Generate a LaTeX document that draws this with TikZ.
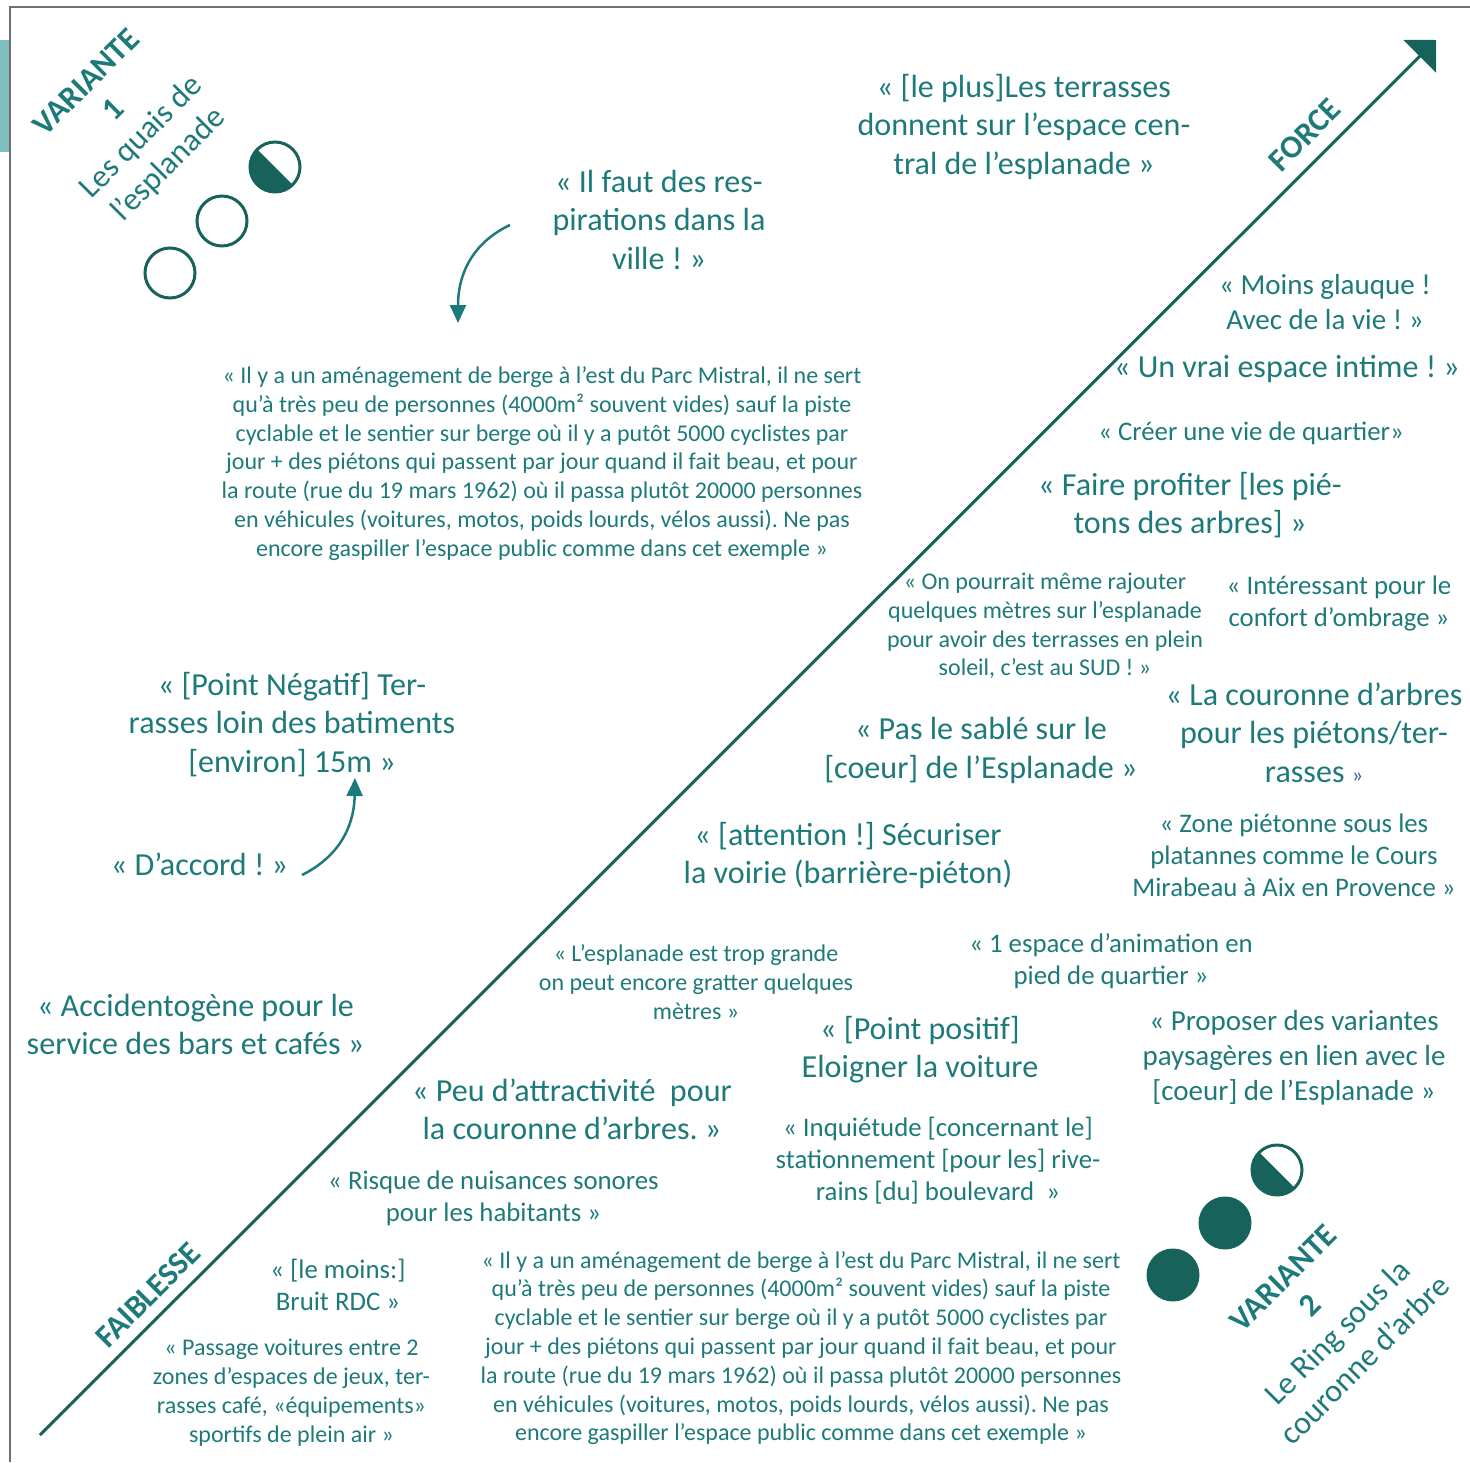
\documentclass[tikz,border=0pt]{standalone}
\usepackage{fontspec}
\setmainfont{Carlito}
\usepackage{tikz}
\usetikzlibrary{arrows.meta}
\frenchspacing

\definecolor{tealtxt}{RGB}{30,122,122}
\definecolor{tealdark}{RGB}{23,98,90}
\definecolor{tealbar}{RGB}{128,190,190}
\definecolor{framegray}{RGB}{112,112,112}
\definecolor{quoteblue}{RGB}{60,90,170}

\begin{document}
\begin{tikzpicture}[x=1pt,y=-1pt,
  big/.style={text=tealtxt,align=center,inner sep=0pt,font=\fontsize{32.1}{38.5}\selectfont},
  medium/.style={text=tealtxt,align=center,inner sep=0pt,font=\fontsize{26.8}{32}\selectfont},
  mediumb/.style={text=tealtxt,align=center,inner sep=0pt,font=\fontsize{29}{35}\selectfont},
  small/.style={text=tealtxt,align=center,inner sep=0pt,font=\fontsize{24}{28.8}\selectfont},
  axislabel/.style={text=tealtxt,inner sep=0pt,rotate=45,font=\fontsize{32.1}{38.5}\selectfont\bfseries},
  ring/.style={tealdark,line width=3pt},
  curvearrow/.style={tealtxt,line width=2.5pt,-{Triangle[length=18pt,width=16pt]}}]

\def\rad{25pt}
\def\bergetext{« Il y a un aménagement de berge à l'est du Parc Mistral, il ne sert\\qu'à très peu de personnes (4000m² souvent vides) sauf la piste\\cyclable et le sentier sur berge où il y a putôt 5000 cyclistes par\\jour + des piétons qui passent par jour quand il fait beau, et pour\\la route (rue du 19 mars 1962) où il passa plutôt 20000 personnes\\en véhicules (voitures, motos, poids lourds, vélos aussi). Ne pas\\encore gaspiller l'espace public comme dans cet exemple »}

\useasboundingbox (0,0) rectangle (1470,1462);

\coordinate (f0) at (10,1462);
\coordinate (f1) at (10,7);
\coordinate (f2) at (1470,7);
\coordinate (a0) at (40,1435);
\coordinate (a1) at (1436,40);
\coordinate (c1) at (170,273);
\coordinate (c2) at (222,221);
\coordinate (c3) at (275,167);
\coordinate (d1) at (1173,1275);
\coordinate (d2) at (1225,1223);
\coordinate (d3) at (1277,1170);
\coordinate (r0) at (510,225);
\coordinate (r1) at (458,323);
\coordinate (s0) at (302,875);
\coordinate (s1) at (355,778);

\fill[tealbar] (0,40) rectangle (10,152);
\draw[framegray,line width=1.2pt] (f0) -- (f1) -- (f2);

\draw[tealdark,line width=3pt,-{Triangle[length=23pt,width=46pt]}] (a0) -- (a1);
\node[axislabel] (force) at (1305,135) {FORCE};
\node[axislabel] (faiblesse) at (148,1295) {FAIBLESSE};

\node[big,rotate=45] (var1) at (128.5,124.5) {\textbf{VARIANTE}\\\textbf{1}\\Les quais de\\l'esplanade};
\node[big,rotate=45] (var2) at (1324,1319) {\textbf{VARIANTE}\\\textbf{2}\\Le Ring sous la\\couronne d'arbre};

\draw[ring] (c1) circle (\rad);
\draw[ring] (c2) circle (\rad);
\fill[tealdark] (c3) ++(135:\rad) arc[start angle=135,end angle=315,radius=\rad] -- cycle;
\draw[ring] (c3) circle (\rad);
\fill[tealdark] (d1) circle (\rad+1.5pt);
\fill[tealdark] (d2) circle (\rad+1.5pt);
\fill[tealdark] (d3) ++(135:\rad) arc[start angle=135,end angle=315,radius=\rad] -- cycle;
\draw[ring] (d3) circle (\rad);

\node[big] (respirations) at (659,219.5) {« Il faut des res-\\pirations dans la\\ville ! »};
\node[big] (terrasses) at (1024,126.5) {« [le plus]Les terrasses\\donnent sur l'espace cen-\\tral de l'esplanade »};
\node[mediumb] (glauque) at (1325,302.5) {« Moins glauque !\\Avec de la vie ! »};
\node[big] (intime) at (1287,369) {« Un vrai espace intime ! »};
\node[medium] (quartier) at (1251,433) {« Créer une vie de quartier»};
\node[big] (profiter) at (1190,505) {« Faire profiter [les pié-\\tons des arbres] »};
\node[small] (rajouter) at (1045,626) {« On pourrait même rajouter\\quelques mètres sur l'esplanade\\pour avoir des terrasses en plein\\soleil, c'est au SUD ! »};
\node[medium] (ombrage) at (1339,603) {« Intéressant pour le\\confort d'ombrage »};
\node[small] (berge1) at (542,463.5) {\bergetext};
\node[big] (negatif) at (292,724.5) {« [Point Négatif] Ter-\\rasses loin des batiments\\{[environ]} 15m »};
\node[big] (accord) at (199.5,864) {« D'accord ! »};
\node[big] (sable) at (981,750.5) {« Pas le sablé sur le\\{[coeur]} de l'Esplanade »};
\node[big] (couronne) at (1314,732.5) {« La couronne d'arbres\\pour les piétons/ter-\\rasses {\color{quoteblue}\fontsize{22}{22}\selectfont »}};
\node[big] (securiser) at (848,855.5) {« [attention !] Sécuriser\\la voirie (barrière-piéton)};
\node[medium] (mirabeau) at (1294,855) {« Zone piétonne sous les\\platannes comme le Cours\\Mirabeau à Aix en Provence »};
\node[small] (grande) at (696,982) {« L'esplanade est trop grande\\on peut encore gratter quelques\\mètres »};
\node[medium] (animation) at (1111,961) {« 1 espace d'animation en\\pied de quartier »};
\node[big] (accident) at (195.5,1024.5) {« Accidentogène pour le\\service des bars et cafés »};
\node[big] (positif) at (920,1049.5) {« [Point positif]\\Eloigner la voiture};
\node[mediumb] (variantes) at (1294,1058) {« Proposer des variantes\\paysagères en lien avec le\\{[coeur]} de l'Esplanade »};
\node[big] (attractivite) at (572,1109.5) {« Peu d'attractivité\ \ pour\\la couronne d'arbres. »};
\node[medium] (stationnement) at (938,1161) {« Inquiétude [concernant le]\\stationnement [pour les] rive-\\rains [du] boulevard\ \ »};
\node[medium] (nuisances) at (493.5,1198) {« Risque de nuisances sonores\\pour les habitants »};
\node[medium] (bruit) at (338,1284.5) {« [le moins:]\\Bruit RDC »};
\node[small] (passage) at (291.5,1392.5) {« Passage voitures entre 2\\zones d'espaces de jeux, ter-\\rasses café, «équipements»\\sportifs de plein air »};
\node[small] (berge2) at (801,1348) {\bergetext};

\draw[curvearrow] (r0) .. controls (478,240) and (458,268) .. (r1);
\draw[curvearrow] (s0) .. controls (336,858) and (354,830) .. (s1);
\end{tikzpicture}
\end{document}
